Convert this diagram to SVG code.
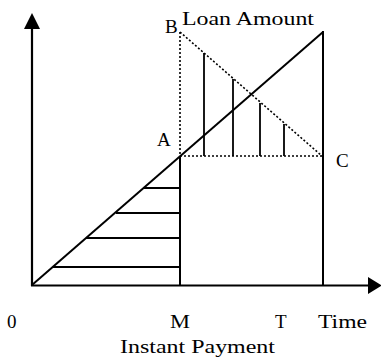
<svg xmlns="http://www.w3.org/2000/svg" width="381" height="360" viewBox="0 0 381 360">
<defs>
<style>
.ax{stroke:#000;stroke-width:2.2;fill:none}
.ln{stroke:#000;stroke-width:2;fill:none}
.ht{stroke:#000;stroke-width:1.8;fill:none}
.dt{stroke:#000;stroke-width:1.6;fill:none;stroke-dasharray:2 2}
.lb{font-size:19px;fill:#000}
</style>
</defs>
<rect width="381" height="360" fill="#fff"/>
<g id="axes">
<line class="ax" x1="32" y1="286" x2="32" y2="26"/>
<polygon points="32,13 24,29 40,29" fill="#000"/>
<line class="ax" x1="31" y1="285.5" x2="370" y2="285.5"/>
<polygon points="382,285.5 368,277 368,294" fill="#000"/>
</g>
<g id="connectors">
<line class="ln" x1="32" y1="285" x2="323" y2="32"/>
<line class="ln" x1="323" y1="31" x2="323" y2="286"/>
<line class="ln" x1="180" y1="156" x2="180" y2="286"/>
<line class="dt" x1="180" y1="32" x2="180" y2="156"/>
<line class="dt" x1="180" y1="32" x2="322" y2="156"/>
<line class="dt" x1="180" y1="156" x2="322" y2="156"/>
<line class="ht" x1="204" y1="53" x2="204" y2="156"/>
<line class="ht" x1="233" y1="79" x2="233" y2="156"/>
<line class="ht" x1="260" y1="103" x2="260" y2="156"/>
<line class="ht" x1="284" y1="124" x2="284" y2="156"/>
<line class="ht" x1="144" y1="188" x2="180" y2="188"/>
<line class="ht" x1="116" y1="213" x2="180" y2="213"/>
<line class="ht" x1="86" y1="238" x2="180" y2="238"/>
<line class="ht" x1="53" y1="267" x2="180" y2="267"/>
</g>
<g id="labels" font-family="Liberation Serif, serif">
<text class="lb" x="165" y="33">B</text>
<text class="lb" x="182" y="25" textLength="132" lengthAdjust="spacingAndGlyphs">Loan Amount</text>
<text class="lb" x="157" y="146">A</text>
<text class="lb" x="336" y="167">C</text>
<text class="lb" x="7" y="328">0</text>
<text class="lb" x="170" y="328" textLength="20" lengthAdjust="spacingAndGlyphs">M</text>
<text class="lb" x="275" y="328">T</text>
<text class="lb" x="318" y="328" textLength="49" lengthAdjust="spacingAndGlyphs">Time</text>
<text class="lb" x="120" y="353" textLength="155" lengthAdjust="spacingAndGlyphs">Instant Payment</text>
</g>
</svg>
